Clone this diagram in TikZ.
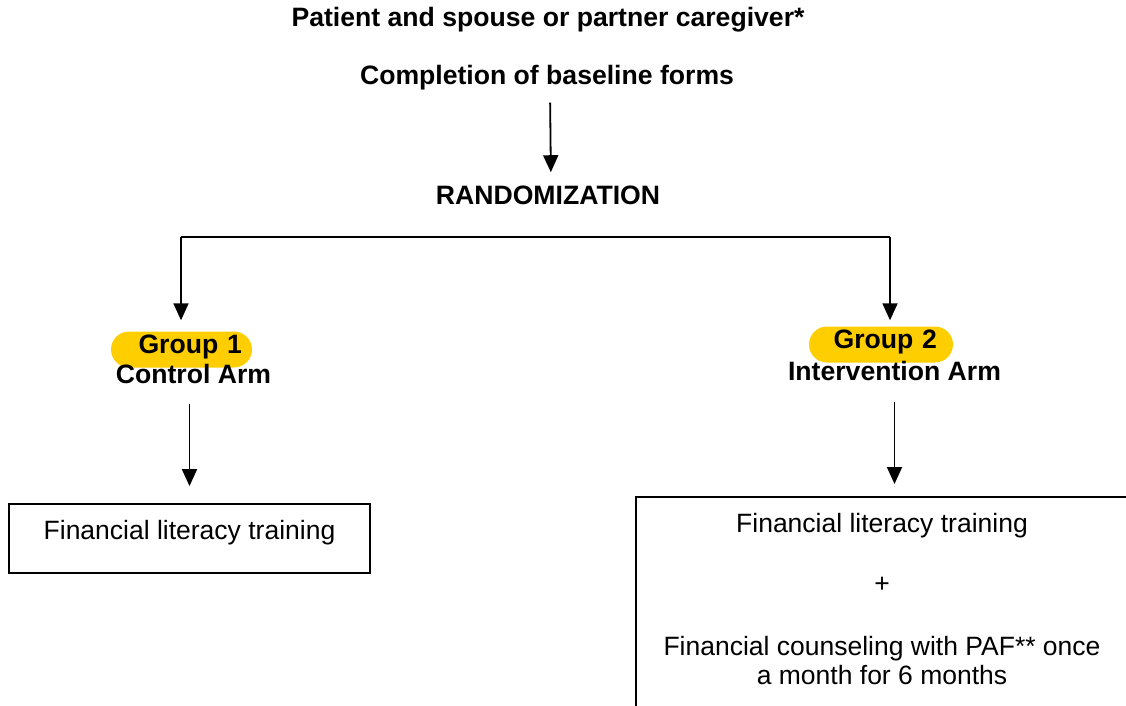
\documentclass[tikz,border=0pt]{standalone}
\usepackage{fontspec}
\setmainfont{Liberation Sans}
\usetikzlibrary{arrows.meta,positioning}
\definecolor{grpyellow}{RGB}{255,206,0}

\begin{document}
\begin{tikzpicture}[x=1pt,y=-1pt,
    txt/.style={inner sep=0pt,font=\fontsize{26.5}{29}\selectfont},
    head/.style={inner sep=0pt,font=\fontsize{26.6}{29}\selectfont\bfseries},
    pill/.style={head,fill=grpyellow,rounded corners=18pt,minimum height=36pt,align=right,text depth=11pt},
    box/.style={draw,line width=1.8pt},
    line/.style={line width=1.8pt},
    arr/.style={line,-{Triangle[length=17pt,width=15pt]}}]
  \useasboundingbox (0,0) rectangle (1126,706);

  \node[head,anchor=base] (pat) at (548,27) {Patient and spouse or partner caregiver*};
  \node[head,anchor=base] (comp) at (547,85) {Completion of baseline forms};
  \node[head,anchor=base] (rand) at (548,204) {RANDOMIZATION};
  \draw[arr,shorten <=12pt,shorten >=13pt] ([xshift=3pt]comp.south) -- ([xshift=3pt]rand.north);

  \node[pill,inner xsep=10pt,text width=121pt] (g1) at (181.5,349.5) {Group 1};
  \node[pill,inner xsep=16pt,text width=112pt] (g2) at (881,344.5) {Group 2};
  \node[head,anchor=base] (arm1) at (193.5,383) {Control Arm};
  \node[head,anchor=base] (arm2) at (894.5,380) {Intervention Arm};

  \coordinate (bar1) at (181,237);
  \coordinate (bar2) at (890,237);
  \draw[line] (bar1) -- (bar2);
  \draw[arr,shorten >=11pt] (bar1) -- (bar1 |- g1.north);
  \draw[arr,shorten >=6pt] (bar2) -- (bar2 |- g2.north);

  \node[box,txt,minimum width=361pt,minimum height=69pt,text depth=17pt] (box1) at (189.5,538.5) {Financial literacy training};
  \node[box,minimum width=500pt,minimum height=240pt,anchor=north west] (box2) at (635,496) {};
  \node[txt,align=center,anchor=north] (inttxt) at (882,513) {Financial literacy training\\[31pt]+\\[34pt]Financial counseling with PAF** once\\a month for 6 months};

  \draw[arr,shorten <=21pt,shorten >=17pt] (arm1.south -| box1.north) -- (box1.north);
  \draw[arr,shorten <=22pt,shorten >=12pt] (arm2.south) -- (arm2.south |- box2.north);
\end{tikzpicture}
\end{document}
